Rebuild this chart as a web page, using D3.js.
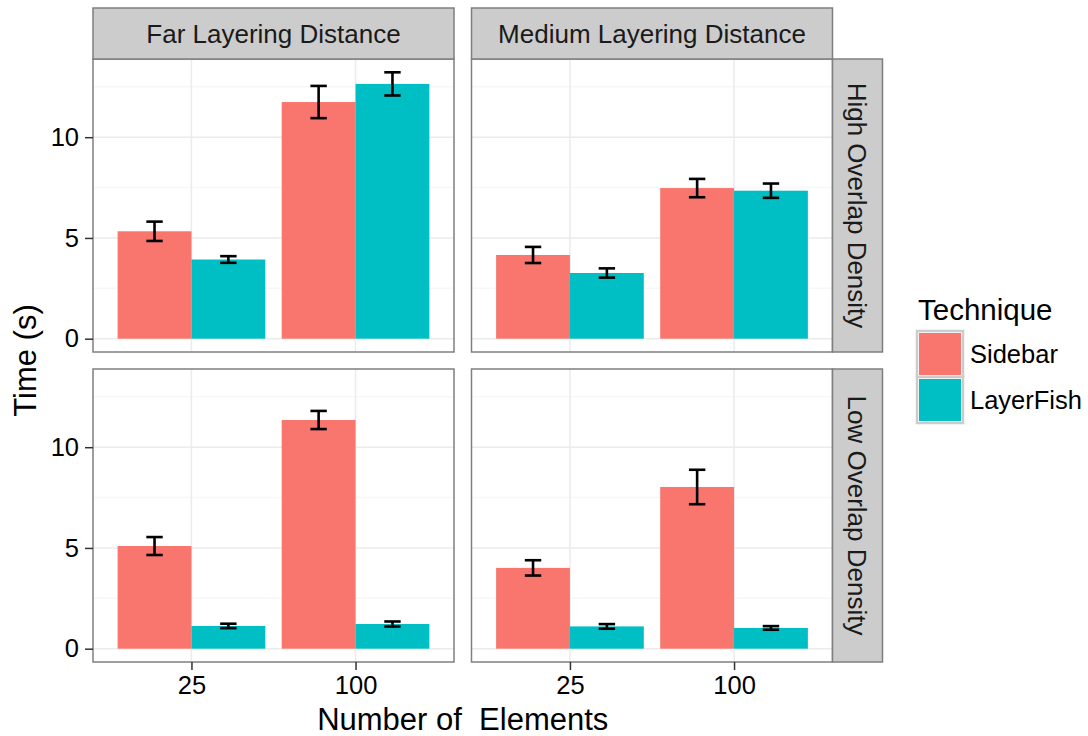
<!DOCTYPE html>
<html>
<head>
<meta charset="utf-8">
<script src="https://cdn.jsdelivr.net/npm/d3@7"></script>
<style>
  body { margin: 0; background: #fff; }
  svg { font-family: "Liberation Sans", Arial, Helvetica, sans-serif; }
</style>
</head>
<body>
<svg id="chart" width="1088" height="736"></svg>
<script>
// facets
var distances = ["Far Layering Distance", "Medium Layering Distance"];
var densities = ["High Overlap Density", "Low Overlap Density"];
var elements = ["25", "100"];
var techniques = ["Sidebar", "LayerFish"];
var techColors = ["#F8766D", "#00BFC4"];
var yTicks = [0, 5, 10];
var yMinor = [2.5, 7.5, 12.5];

// order: High/Far, High/Medium, Low/Far, Low/Medium ; inside each: 25, 100
var sidebarMean   = [5.33, 11.745, 4.155, 7.475, 5.095, 11.35, 4.01, 8.025];
var sidebarSE     = [0.48, 0.80, 0.40, 0.455, 0.445, 0.45, 0.38, 0.855];
var layerfishMean = [3.93, 12.645, 3.26, 7.345, 1.13, 1.225, 1.105, 1.03];
var layerfishSE   = [0.165, 0.575, 0.23, 0.355, 0.11, 0.125, 0.115, 0.09];

var panel_w = 361, panel_h = 293;
var panel_x = [93, 471.5];
var panel_y = [59, 369];
var strip_top = 8, strip_w = 50;

var svg = d3.select('#chart');

var rows = [];
densities.forEach(function (den, r) {
    distances.forEach(function (dist, c) {
        elements.forEach(function (el, e) {
            var i = r * 4 + c * 2 + e;
            rows.push({row: r, col: c, el: el, tech: "Sidebar", mean: sidebarMean[i], se: sidebarSE[i]});
            rows.push({row: r, col: c, el: el, tech: "LayerFish", mean: layerfishMean[i], se: layerfishSE[i]});
        });
    });
});

var ymax = d3.max(rows, function (d) { return d.mean + d.se; });
var color = d3.scaleOrdinal().domain(techniques).range(techColors);

densities.forEach(function (den, r) {
    distances.forEach(function (dist, c) {
        var x0 = panel_x[c], y0 = panel_y[r];
        var g = svg.append('g');

        var xScale = d3.scalePoint()
            .domain(elements)
            .range([x0, x0 + panel_w])
            .padding(0.6);
        var step = xScale.step();
        var dodge = d3.scaleBand()
            .domain(techniques)
            .range([-0.45 * step, 0.45 * step])
            .padding(0);
        var yScale = d3.scaleLinear()
            .domain([-0.05 * ymax, 1.05 * ymax])
            .range([y0 + panel_h, y0]);

        g.append('rect')
            .attr('x', x0).attr('y', y0)
            .attr('width', panel_w).attr('height', panel_h)
            .style('fill', 'white');

        // grid
        g.selectAll('.minor').data(yMinor).enter().append('line')
            .attr('x1', x0).attr('x2', x0 + panel_w)
            .attr('y1', function (d) { return yScale(d); })
            .attr('y2', function (d) { return yScale(d); })
            .style('stroke', '#F7F7F7').style('stroke-width', 1.5);
        g.selectAll('.major').data(yTicks).enter().append('line')
            .attr('x1', x0).attr('x2', x0 + panel_w)
            .attr('y1', function (d) { return yScale(d); })
            .attr('y2', function (d) { return yScale(d); })
            .style('stroke', '#EBEBEB').style('stroke-width', 1.5);
        g.selectAll('.vmajor').data(elements).enter().append('line')
            .attr('y1', y0).attr('y2', y0 + panel_h)
            .attr('x1', function (d) { return xScale(d); })
            .attr('x2', function (d) { return xScale(d); })
            .style('stroke', '#EBEBEB').style('stroke-width', 1.5);

        var pdata = rows.filter(function (d) { return d.row === r && d.col === c; });

        g.selectAll('.bar').data(pdata).enter().append('rect')
            .attr('x', function (d) { return xScale(d.el) + dodge(d.tech); })
            .attr('width', dodge.bandwidth())
            .attr('y', function (d) { return yScale(d.mean); })
            .attr('height', function (d) { return yScale(0) - yScale(d.mean); })
            .style('fill', function (d) { return color(d.tech); });

        var cap = 0.05 * step;
        var eb = g.selectAll('.err').data(pdata).enter().append('g')
            .style('stroke', 'black').style('stroke-width', 2.6);
        eb.append('line')
            .attr('x1', function (d) { return xScale(d.el) + dodge(d.tech) + dodge.bandwidth() / 2; })
            .attr('x2', function (d) { return xScale(d.el) + dodge(d.tech) + dodge.bandwidth() / 2; })
            .attr('y1', function (d) { return yScale(d.mean - d.se); })
            .attr('y2', function (d) { return yScale(d.mean + d.se); });
        [1, -1].forEach(function (s) {
            eb.append('line')
                .attr('x1', function (d) { return xScale(d.el) + dodge(d.tech) + dodge.bandwidth() / 2 - cap; })
                .attr('x2', function (d) { return xScale(d.el) + dodge(d.tech) + dodge.bandwidth() / 2 + cap; })
                .attr('y1', function (d) { return yScale(d.mean + s * d.se); })
                .attr('y2', function (d) { return yScale(d.mean + s * d.se); });
        });

        g.append('rect')
            .attr('x', x0).attr('y', y0)
            .attr('width', panel_w).attr('height', panel_h)
            .style('fill', 'none').style('stroke', '#7F7F7F').style('stroke-width', 1.5);

        // y axis on left column
        if (c === 0) {
            var ya = svg.append('g')
                .attr('transform', 'translate(' + x0 + ',0)')
                .call(d3.axisLeft(yScale).tickValues(yTicks).tickSize(8).tickPadding(6));
            ya.select('.domain').remove();
            ya.selectAll('line').style('stroke', '#333').style('stroke-width', 1.5);
            ya.selectAll('text').style('font-size', '25.5px').style('fill', 'black');
        }
        // x axis on bottom row
        if (r === densities.length - 1) {
            var xa = svg.append('g')
                .attr('transform', 'translate(0,' + (y0 + panel_h) + ')')
                .call(d3.axisBottom(xScale).tickSize(8).tickPadding(6));
            xa.select('.domain').remove();
            xa.selectAll('line').style('stroke', '#333').style('stroke-width', 1.5);
            xa.selectAll('text').style('font-size', '25.5px').style('fill', 'black');
        }
        // top strips
        if (r === 0) {
            svg.append('rect')
                .attr('x', x0).attr('y', strip_top)
                .attr('width', panel_w).attr('height', y0 - strip_top)
                .style('fill', '#CCCCCC').style('stroke', '#7F7F7F').style('stroke-width', 1.5);
            svg.append('text')
                .attr('x', x0 + panel_w / 2).attr('y', (strip_top + y0) / 2 + 9.5)
                .attr('text-anchor', 'middle')
                .style('font-size', '26px').style('fill', '#1A1A1A')
                .text(dist);
        }
        // right strips
        if (c === distances.length - 1) {
            var sx = x0 + panel_w;
            svg.append('rect')
                .attr('x', sx).attr('y', y0)
                .attr('width', strip_w).attr('height', panel_h)
                .style('fill', '#CCCCCC').style('stroke', '#7F7F7F').style('stroke-width', 1.5);
            svg.append('text')
                .attr('transform', 'translate(' + (sx + strip_w / 2 - 9.5) + ',' + (y0 + panel_h / 2) + ') rotate(90)')
                .attr('text-anchor', 'middle')
                .style('font-size', '26px').style('fill', '#1A1A1A')
                .text(den);
        }
    });
});

// axis titles
svg.append('text')
    .attr('x', (panel_x[0] + panel_x[1] + panel_w) / 2).attr('y', 730)
    .attr('text-anchor', 'middle')
    .style('font-size', '31px').style('fill', 'black')
    .text('Number of \u00a0Elements');
svg.append('text')
    .attr('transform', 'translate(36,' + (panel_y[0] + panel_y[1] + panel_h) / 2 + ') rotate(-90)')
    .attr('text-anchor', 'middle')
    .style('font-size', '31px').style('fill', 'black')
    .text('Time (s)');

// legend
var lg = svg.append('g');
lg.append('text')
    .attr('x', 918).attr('y', 320)
    .style('font-size', '29.5px').style('fill', 'black')
    .text('Technique');
techniques.forEach(function (t, i) {
    var ky = 331 + i * 46;
    lg.append('rect')
        .attr('x', 917).attr('y', ky)
        .attr('width', 46).attr('height', 46)
        .style('fill', 'white').style('stroke', '#CCCCCC').style('stroke-width', 2.5);
    lg.append('rect')
        .attr('x', 919).attr('y', ky + 2)
        .attr('width', 42).attr('height', 42)
        .style('fill', color(t));
    lg.append('text')
        .attr('x', 970).attr('y', ky + 32)
        .style('font-size', '25.5px').style('fill', 'black')
        .text(t);
});
</script>
</body>
</html>
